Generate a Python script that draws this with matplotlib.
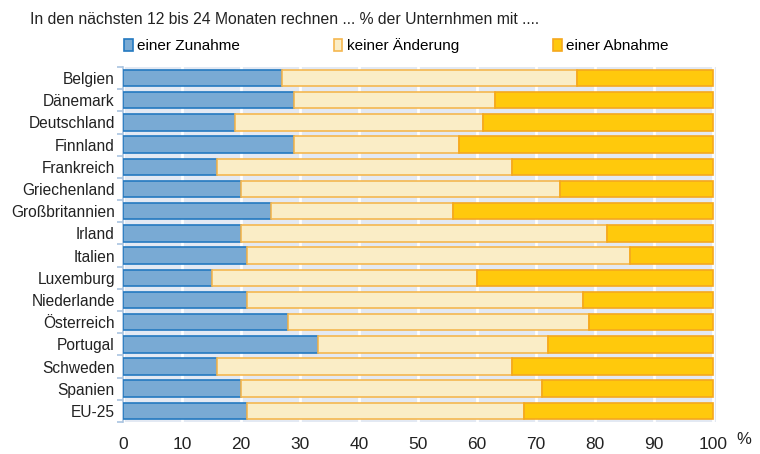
import matplotlib
matplotlib.use("Agg")
import matplotlib.pyplot as plt
from matplotlib.patches import Patch
import numpy as np

plt.rcParams['font.family'] = ['Liberation Sans', 'DejaVu Sans']

countries = ["Belgien", "Dänemark", "Deutschland", "Finnland", "Frankreich",
             "Griechenland", "Großbritannien", "Irland", "Italien", "Luxemburg",
             "Niederlande", "Österreich", "Portugal", "Schweden", "Spanien", "EU-25"]
zunahme = [27, 29, 19, 29, 16, 20, 25, 20, 21, 15, 21, 28, 33, 16, 20, 21]
keine = [50, 34, 42, 28, 50, 54, 31, 62, 65, 45, 57, 51, 39, 50, 51, 47]
abnahme = [23, 37, 39, 43, 34, 26, 44, 18, 14, 40, 22, 21, 28, 34, 29, 32]
series_labels = ["einer Zunahme", "keiner Änderung", "einer Abnahme"]
x_ticks = [0, 10, 20, 30, 40, 50, 60, 70, 80, 90, 100]
title = "In den nächsten 12 bis 24 Monaten rechnen ... % der Unternhmen mit ...."

fills = ["#79AAD4", "#FAEDC6", "#FFC90C"]
edges = ["#2479C0", "#F5B750", "#F5A81E"]

fig = plt.figure(figsize=(7.6, 4.54), dpi=100)
ax = fig.add_axes([0.162, 0.0705, 0.78, 0.782])
ax.set_facecolor("#E3E9F3")

y = np.arange(len(countries))
left = np.zeros(len(countries))
for vals, fc, ec, lab in zip([zunahme, keine, abnahme], fills, edges, series_labels):
    ax.barh(y, vals, left=left, height=0.74, color=fc, edgecolor=ec, linewidth=1.2,
            label=lab, zorder=3)
    left += np.array(vals)

ax.set_xlim(0, 100.5)
ax.set_ylim(len(countries) - 0.5, -0.5)
ax.set_xticks(x_ticks)
ax.set_xticklabels([str(t) for t in x_ticks], fontsize=12.5, color="#222222")
ax.set_yticks(y)
ax.set_yticklabels(countries, fontsize=11.2, color="#222222")
ax.tick_params(axis='y', length=0, pad=6)
ax.tick_params(axis='x', length=0, pad=11)
ax.set_yticks(np.arange(len(countries) + 1) - 0.5, minor=True)
ax.tick_params(axis='y', which='minor', length=4, color="#A9C4E0", width=1.2)
ax.grid(axis='x', color="white", linewidth=2, zorder=1)
ax.set_axisbelow(True)
for s in ["top", "right", "bottom"]:
    ax.spines[s].set_visible(False)
ax.spines["left"].set_color("#A9C4E0")
ax.spines["left"].set_linewidth(1.2)

fig.text(0.988, 0.015, "%", fontsize=12, color="#222222", ha="right", va="bottom")
fig.text(0.04, 0.958, title, fontsize=11.3, color="#222222", ha="left", va="center")

handles = [Patch(facecolor=f, edgecolor=e, linewidth=1.2) for f, e in zip(fills, edges)]
fig.legend(handles, series_labels, loc="center left", bbox_to_anchor=(0.1635, 0.899),
           ncol=3, frameon=False, fontsize=11, handlelength=0.55, handleheight=0.9,
           handletextpad=0.3, columnspacing=6.15, borderaxespad=0, borderpad=0)

fig.savefig("out.png", dpi=100)
